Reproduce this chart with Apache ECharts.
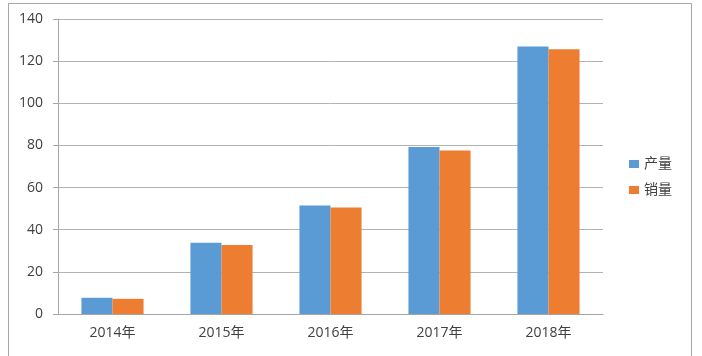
<!DOCTYPE html>
<html><head><meta charset="utf-8">
<script src="https://cdn.jsdelivr.net/npm/echarts@6/dist/echarts.min.js"></script>
<style>html,body{margin:0;padding:0;background:#fff}#c{width:702px;height:356px}</style>
</head><body><div id="c"></div>
<script>
const categories = ['2014年','2015年','2016年','2017年','2018年'];
const production = [7.7, 33.8, 51.5, 79.2, 126.9];
const sales = [7.2, 32.8, 50.5, 77.6, 125.6];
const seriesNames = ['产量','销量'];

const font = "'Open Sans','Noto Sans CJK SC',sans-serif";
const chart = echarts.init(document.getElementById('c'));
chart.setOption({
  animation:false,
  textStyle:{fontFamily:font},
  graphic:[{type:'rect',shape:{x:8.5,y:3.5,width:683,height:370},style:{fill:'none',stroke:'#a6a6a6',lineWidth:1},silent:true}],
  grid:{left:58,top:19,right:99,bottom:42},
  legend:{orient:'vertical',left:629,top:157,padding:0,itemWidth:10,itemHeight:8,itemGap:12,
    icon:'rect',textStyle:{fontSize:14,color:'#404040',fontFamily:font}},
  xAxis:{type:'category',data:categories,
    axisLine:{lineStyle:{color:'#a6a6a6'}},
    axisTick:{length:5,lineStyle:{color:'#a6a6a6'}},
    axisLabel:{fontSize:14,color:'#404040',margin:12}},
  yAxis:{type:'value',min:0,max:140,interval:20,
    axisLine:{show:true,lineStyle:{color:'#a6a6a6'}},
    axisTick:{show:true,length:5,lineStyle:{color:'#a6a6a6'}},
    axisLabel:{fontSize:14,color:'#404040',margin:15},
    splitLine:{lineStyle:{color:'#b3b3b3'}}},
  series:[
    {name:seriesNames[0],type:'bar',data:production,barGap:'0%',barCategoryGap:'43%',itemStyle:{color:'#5B9BD5'}},
    {name:seriesNames[1],type:'bar',data:sales,barGap:'0%',barCategoryGap:'43%',itemStyle:{color:'#ED7D31'}}
  ]
});
</script></body></html>
